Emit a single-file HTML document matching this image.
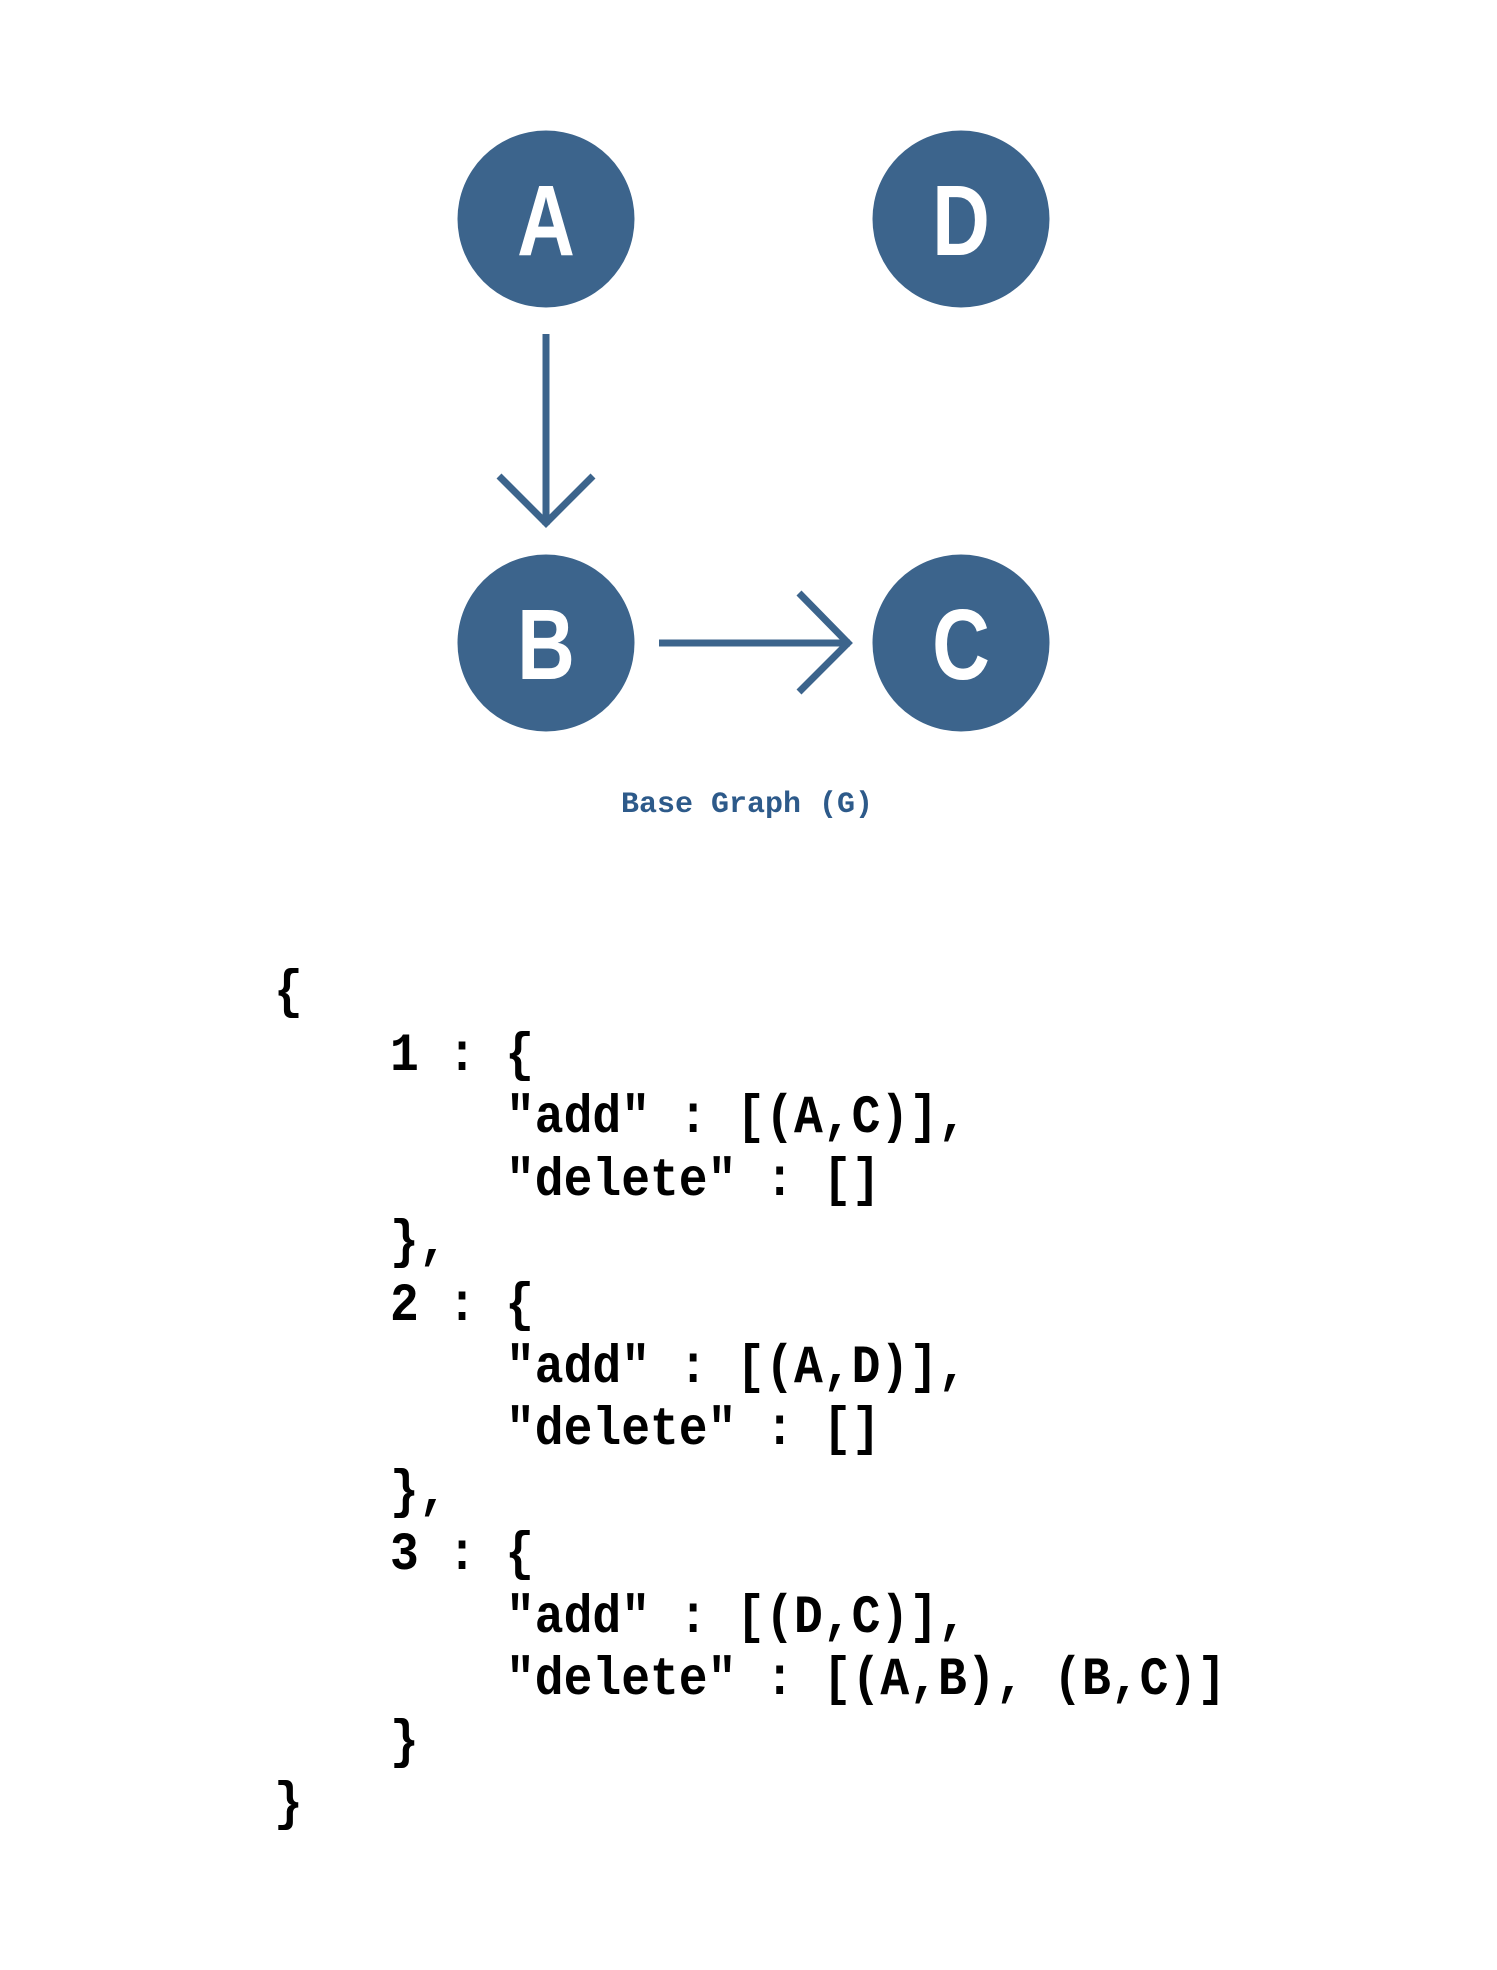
<!DOCTYPE html>
<html><head><meta charset="utf-8"><style>
html,body{margin:0;padding:0;background:#fff;}
svg{display:block;}
.c{font-family:"Liberation Mono",monospace;font-weight:bold;font-size:48px;fill:#000;white-space:pre;}
</style></head><body>
<svg width="1497" height="1970" viewBox="0 0 1497 1970" xmlns="http://www.w3.org/2000/svg">
<g transform="translate(5,2)">
<g fill="#3c648c">
<circle cx="541" cy="217" r="88.5"/>
<circle cx="956" cy="217" r="88.5"/>
<circle cx="541" cy="641" r="88.5"/>
<circle cx="956" cy="641" r="88.5"/>
</g>
<g font-family="Liberation Sans, sans-serif" font-weight="bold" font-size="100" fill="#fff" text-anchor="middle">
<text transform="translate(541,253) scale(0.8,1)">A</text>
<text transform="translate(956,253) scale(0.8,1)">D</text>
<text transform="translate(541,677) scale(0.8,1)">B</text>
<text transform="translate(956,677) scale(0.8,1)">C</text>
</g>
<g stroke="#3c648c" stroke-width="7" fill="none">
<line x1="541" y1="332" x2="541" y2="523"/>
<polyline points="494,474 541,521 588,474"/>
<line x1="654" y1="641" x2="845" y2="641"/>
<polyline points="794,591 843,641 794,690"/>
</g>
</g>
<text x="747" y="812" text-anchor="middle" font-family="Liberation Mono, monospace" font-weight="bold" font-size="30" fill="#2d5a8a">Base Graph (G)</text>
<g class="c">
<text transform="translate(274,1007) scale(1,1.12)">{</text>
<text transform="translate(390,1070) scale(1,1.12)">1 : {</text>
<text transform="translate(506,1132) scale(1,1.12)">"add" : [(A,C)],</text>
<text transform="translate(506,1195) scale(1,1.12)">"delete" : []</text>
<text transform="translate(390,1257) scale(1,1.12)">},</text>
<text transform="translate(390,1320) scale(1,1.12)">2 : {</text>
<text transform="translate(506,1382) scale(1,1.12)">"add" : [(A,D)],</text>
<text transform="translate(506,1444) scale(1,1.12)">"delete" : []</text>
<text transform="translate(390,1507) scale(1,1.12)">},</text>
<text transform="translate(390,1569) scale(1,1.12)">3 : {</text>
<text transform="translate(506,1632) scale(1,1.12)">"add" : [(D,C)],</text>
<text transform="translate(506,1694) scale(1,1.12)">"delete" : [(A,B), (B,C)]</text>
<text transform="translate(390,1757) scale(1,1.12)">}</text>
<text transform="translate(274,1819) scale(1,1.12)">}</text>
</g>
</svg>
</body></html>
